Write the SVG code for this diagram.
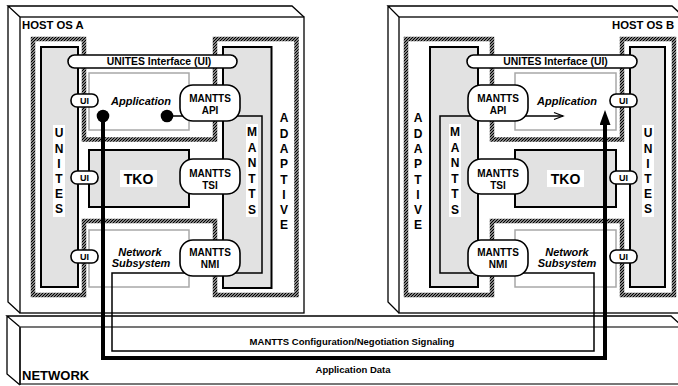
<svg xmlns="http://www.w3.org/2000/svg" width="678" height="386" viewBox="0 0 678 386">
<style>
text{font-family:"Liberation Sans",Arial,Helvetica,sans-serif;font-weight:bold;fill:#000}
.edge{fill:none;stroke:#000;stroke-width:1.3}
.shell{fill:#fff;stroke:#000;stroke-width:1.3}
.hatch{fill:none;stroke:url(#hatch);stroke-width:4.5}
.col{fill:#e2e2e2;stroke:#000;stroke-width:2}
.frame{fill:#fff;stroke:#a8a8a8;stroke-width:1.5}
.pill{fill:#fff;stroke:#000;stroke-width:1.6}
.strip{fill:#fff}
.lbl{font-size:11.3px}
.v{font-size:12px;text-anchor:middle}
.mid{text-anchor:middle}
.b10{font-size:10px;text-anchor:middle}
.ui{font-size:9px;text-anchor:middle}
.app{font-size:11px;font-style:italic;text-anchor:middle}
.tko{font-size:14px;text-anchor:middle}
.sig{fill:none;stroke:#000;stroke-width:1.5}
.data{fill:none;stroke:#000;stroke-width:4}
</style>
<defs>
<pattern id="hatch" patternUnits="userSpaceOnUse" width="3" height="3">
<rect width="3" height="3" fill="#fff"/>
<path d="M0,3 L3,0 M-1,1 L1,-1 M2,4 L4,2" stroke="#000" stroke-width="1.4"/>
</pattern>
<marker id="solid" markerUnits="userSpaceOnUse" viewBox="0 0 15 11" refX="3" refY="5.5" markerWidth="15" markerHeight="11" orient="auto">
<path d="M0,0 L15,5.5 L0,11 Z" fill="#000"/>
</marker>
<marker id="open" markerUnits="userSpaceOnUse" viewBox="-1 -1 11 10" refX="9" refY="4" markerWidth="11" markerHeight="10" orient="auto" overflow="visible">
<path d="M0,0.5 L9,4 L0,7.5" fill="none" stroke="#000" stroke-width="1.3"/>
</marker>
</defs>
<rect width="678" height="386" fill="#fff"/>

<!-- network slab -->
<g id="network">
<path class="edge" d="M20,327 L7,316 H671 L684,328 M7,316 V374 L20,385"/>
<rect x="20" y="327" width="680" height="57" fill="#fff" stroke="#555" stroke-width="1.6"/>
<line x1="20" y1="327" x2="20" y2="385" stroke="#000" stroke-width="1.3"/>
<text x="22" y="380" font-size="13">NETWORK</text>
<text class="mid" x="352" y="345" font-size="9.5">MANTTS Configuration/Negotiation Signaling</text>
<text class="mid" x="353" y="373" font-size="9.5">Application Data</text>
</g>

<!-- host A -->
<g id="host-a">
<path class="edge" d="M20,17 L8,6 H292 L304,17 M8,6 V302 L20,313"/>
<rect class="shell" x="20" y="17" width="284" height="296"/>
<text class="lbl" x="22" y="29">HOST OS A</text>
<path class="hatch" d="M33,39 H84 V139.5 H215 V39 H296.5 V295 H215 V221 H84 V295 H33 Z"/>
</g>
<g id="unites-a">
<rect class="col" x="41" y="47" width="37" height="240"/>
<rect class="strip" x="53" y="125" width="12" height="92"/>
<text class="v" x="59"><tspan x="59" y="137.3">U</tspan><tspan x="59" y="152.5">N</tspan><tspan x="59" y="167.7">I</tspan><tspan x="59" y="182.9">T</tspan><tspan x="59" y="198.1">E</tspan><tspan x="59" y="213.3">S</tspan></text>
</g>
<g id="adaptive-a">
<rect class="col" x="223" y="47" width="48.5" height="241"/>
<text class="v" x="284"><tspan x="284" y="122.3">A</tspan><tspan x="284" y="137.6">D</tspan><tspan x="284" y="152.9">A</tspan><tspan x="284" y="168.2">P</tspan><tspan x="284" y="183.5">T</tspan><tspan x="284" y="198.8">I</tspan><tspan x="284" y="214.1">V</tspan><tspan x="284" y="229.4">E</tspan></text>
</g>
<g id="mantts-a">
<rect class="strip" x="246" y="124" width="12" height="93"/>
<text class="v" x="252"><tspan x="252" y="136">M</tspan><tspan x="252" y="151.5">A</tspan><tspan x="252" y="167">N</tspan><tspan x="252" y="182.5">T</tspan><tspan x="252" y="198">T</tspan><tspan x="252" y="213.5">S</tspan></text>
</g>
<g id="app-a">
<rect class="frame" x="89" y="73" width="100" height="57"/>
<text class="app" x="141" y="104.5">Application</text>
</g>
<g id="tko-a">
<rect class="col" x="89" y="150" width="100" height="57"/>
<rect class="strip" x="120" y="170" width="37" height="17"/>
<text class="tko" x="138.5" y="184">TKO</text>
</g>
<g id="netsub-a">
<rect class="frame" x="89" y="230" width="100" height="57"/>
<text class="app" x="140" y="256">Network</text>
<text class="app" x="141" y="266.5">Subsystem</text>
</g>

<!-- host B -->
<g id="host-b">
<path class="edge" d="M399,17 L388,6 H672 L684,17 M388,6 V302 L399,313"/>
<rect class="shell" x="399" y="17" width="300" height="296"/>
<text class="lbl" x="612" y="29">HOST OS B</text>
<path class="hatch" d="M406,39 H492 V139.5 H622 V39 H674 V295 H622 V221 H492 V295 H406 Z"/>
</g>
<g id="adaptive-b">
<rect class="col" x="430" y="47" width="48" height="240"/>
<text class="v" x="418"><tspan x="418" y="122.3">A</tspan><tspan x="418" y="137.6">D</tspan><tspan x="418" y="152.9">A</tspan><tspan x="418" y="168.2">P</tspan><tspan x="418" y="183.5">T</tspan><tspan x="418" y="198.8">I</tspan><tspan x="418" y="214.1">V</tspan><tspan x="418" y="229.4">E</tspan></text>
</g>
<g id="mantts-b">
<rect class="strip" x="449" y="124" width="12" height="93"/>
<text class="v" x="455"><tspan x="455" y="136">M</tspan><tspan x="455" y="151.5">A</tspan><tspan x="455" y="167">N</tspan><tspan x="455" y="182.5">T</tspan><tspan x="455" y="198">T</tspan><tspan x="455" y="213.5">S</tspan></text>
</g>
<g id="unites-b">
<rect class="col" x="630" y="47" width="35" height="240"/>
<rect class="strip" x="642" y="125" width="12" height="92"/>
<text class="v" x="648"><tspan x="648" y="137.3">U</tspan><tspan x="648" y="152.5">N</tspan><tspan x="648" y="167.7">I</tspan><tspan x="648" y="182.9">T</tspan><tspan x="648" y="198.1">E</tspan><tspan x="648" y="213.3">S</tspan></text>
</g>
<g id="app-b">
<rect class="frame" x="515" y="73" width="101" height="57"/>
<text class="app" x="567" y="105">Application</text>
</g>
<g id="tko-b">
<rect class="col" x="515" y="150" width="101" height="57"/>
<rect class="strip" x="547" y="170" width="37" height="17"/>
<text class="tko" x="565.5" y="184">TKO</text>
</g>
<g id="netsub-b">
<rect class="frame" x="515" y="230" width="101" height="57"/>
<text class="app" x="567" y="256">Network</text>
<text class="app" x="567" y="266.5">Subsystem</text>
</g>

<!-- signalling and data paths -->
<g id="connectors">
<path class="sig" d="M167,116 H262 V273 H112 V351 H594 V273 H440 V116 H563" marker-end="url(#open)"/>
<path class="data" d="M103,116 V358 H605 V122" marker-end="url(#solid)"/>
<circle cx="103" cy="116" r="6.3" fill="#000"/>
<circle cx="167" cy="116" r="6.3" fill="#000"/>
</g>

<!-- interface bubbles, host A -->
<g id="uibar-a">
<rect class="pill" x="68" y="55" width="169" height="13" rx="6.5"/>
<text class="mid" x="159" y="65" font-size="10.4">UNITES Interface (UI)</text>
</g>
<g id="ui-app-a"><rect class="pill" x="71" y="94" width="27" height="13" rx="6"/><text class="ui" x="84.5" y="104">UI</text></g>
<g id="ui-tko-a"><rect class="pill" x="71" y="171" width="27" height="13" rx="6"/><text class="ui" x="84.5" y="181">UI</text></g>
<g id="ui-net-a"><rect class="pill" x="71" y="250" width="27" height="13" rx="6"/><text class="ui" x="84.5" y="260">UI</text></g>
<g id="api-a"><rect class="pill" x="180" y="85" width="60" height="36" rx="13"/><text class="b10" x="210" y="102">MANTTS</text><text class="b10" x="210" y="113.5">API</text></g>
<g id="tsi-a"><rect class="pill" x="180" y="159" width="60" height="35" rx="13"/><text class="b10" x="210" y="177">MANTTS</text><text class="b10" x="210" y="188.5">TSI</text></g>
<g id="nmi-a"><rect class="pill" x="180" y="240" width="60" height="36" rx="13"/><text class="b10" x="210" y="256">MANTTS</text><text class="b10" x="210" y="267.5">NMI</text></g>

<!-- interface bubbles, host B -->
<g id="uibar-b">
<rect class="pill" x="467" y="55" width="170" height="13" rx="6.5"/>
<text class="mid" x="555.5" y="65" font-size="10.4">UNITES Interface (UI)</text>
</g>
<g id="ui-app-b"><rect class="pill" x="610" y="94" width="27" height="13" rx="6"/><text class="ui" x="623.5" y="104">UI</text></g>
<g id="ui-tko-b"><rect class="pill" x="610" y="171" width="27" height="13" rx="6"/><text class="ui" x="623.5" y="181">UI</text></g>
<g id="ui-net-b"><rect class="pill" x="610" y="250" width="27" height="13" rx="6"/><text class="ui" x="623.5" y="260">UI</text></g>
<g id="api-b"><rect class="pill" x="468" y="85" width="60" height="36" rx="13"/><text class="b10" x="498" y="102">MANTTS</text><text class="b10" x="498" y="113.5">API</text></g>
<g id="tsi-b"><rect class="pill" x="468" y="159" width="60" height="35" rx="13"/><text class="b10" x="498" y="177">MANTTS</text><text class="b10" x="498" y="188.5">TSI</text></g>
<g id="nmi-b"><rect class="pill" x="468" y="240" width="60" height="36" rx="13"/><text class="b10" x="498" y="256">MANTTS</text><text class="b10" x="498" y="267.5">NMI</text></g>
</svg>
